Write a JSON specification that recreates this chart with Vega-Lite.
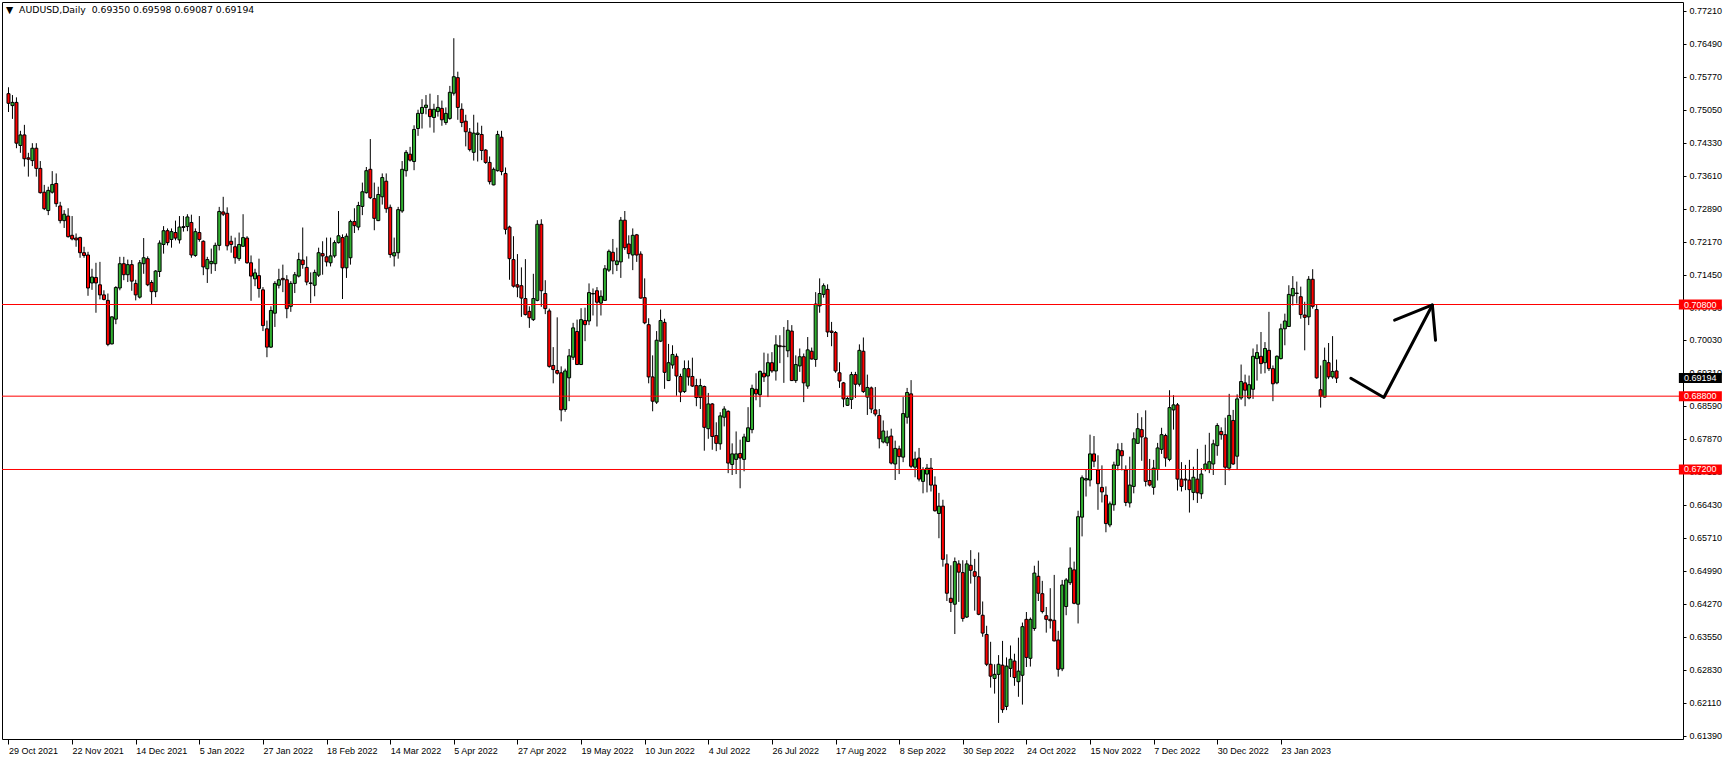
{
"$schema": "https://vega.github.io/schema/vega-lite/v6.json",
"width": 1681, "height": 737,
"autosize": {"type": "none"},
"padding": {"left": 2, "top": 2, "right": 46, "bottom": 21},
"background": "white",
"config": {"view": {"stroke": "#000000", "strokeWidth": 1}, "font": "Liberation Sans",
 "axis": {"labelOverlap": false, "labelBound": false, "labelFlush": false, "labelSeparation": 0, "grid": false, "domain": false, "title": null, "tickColor": "#000000", "labelColor": "#000000", "labelFont": "Liberation Sans", "labelFontSize": 9},
 "axisY": {"labelOverlap": false, "tickSize": 3, "labelPadding": 3},
 "axisX": {"labelOverlap": false, "tickSize": 5, "labelPadding": 2, "labelAlign": "left", "labelBaseline": "top", "labelDx": 1}},
"title": {"text": "▼\u00a0\u00a0AUDUSD,Daily\u00a0\u00a00.69350 0.69598 0.69087 0.69194", "anchor": "start", "frame": "group", "offset": -13, "dx": 4, "fontSize": 9.3, "font": "DejaVu Sans", "fontWeight": "normal", "color": "#000000"},
"datasets": {
"candles": [
{"i":0,"o":0.7540,"h":0.7554,"l":0.7500,"c":0.7519},
{"i":1,"o":0.7514,"h":0.7537,"l":0.7485,"c":0.7521},
{"i":2,"o":0.7521,"h":0.7532,"l":0.7421,"c":0.7432},
{"i":3,"o":0.7427,"h":0.7459,"l":0.7411,"c":0.7450},
{"i":4,"o":0.7450,"h":0.7472,"l":0.7381,"c":0.7398},
{"i":5,"o":0.7400,"h":0.7411,"l":0.7359,"c":0.7397},
{"i":6,"o":0.7394,"h":0.7432,"l":0.7382,"c":0.7421},
{"i":7,"o":0.7421,"h":0.7432,"l":0.7359,"c":0.7377},
{"i":8,"o":0.7377,"h":0.7393,"l":0.7322,"c":0.7324},
{"i":9,"o":0.7325,"h":0.7341,"l":0.7286,"c":0.7289},
{"i":10,"o":0.7285,"h":0.7337,"l":0.7275,"c":0.7329},
{"i":11,"o":0.7325,"h":0.7371,"l":0.7322,"c":0.7342},
{"i":12,"o":0.7344,"h":0.7366,"l":0.7293,"c":0.7300},
{"i":13,"o":0.7295,"h":0.7304,"l":0.7257,"c":0.7263},
{"i":14,"o":0.7263,"h":0.7286,"l":0.7247,"c":0.7277},
{"i":15,"o":0.7273,"h":0.7290,"l":0.7226,"c":0.7228},
{"i":16,"o":0.7231,"h":0.7273,"l":0.7220,"c":0.7223},
{"i":17,"o":0.7225,"h":0.7235,"l":0.7206,"c":0.7221},
{"i":18,"o":0.7226,"h":0.7228,"l":0.7182,"c":0.7193},
{"i":19,"o":0.7193,"h":0.7206,"l":0.7182,"c":0.7187},
{"i":20,"o":0.7188,"h":0.7195,"l":0.7099,"c":0.7116},
{"i":21,"o":0.7127,"h":0.7158,"l":0.7112,"c":0.7140},
{"i":22,"o":0.7139,"h":0.7171,"l":0.7062,"c":0.7127},
{"i":23,"o":0.7123,"h":0.7173,"l":0.7091,"c":0.7101},
{"i":24,"o":0.7101,"h":0.7111,"l":0.7089,"c":0.7091},
{"i":25,"o":0.7089,"h":0.7104,"l":0.6989,"c":0.6993},
{"i":26,"o":0.6994,"h":0.7054,"l":0.6993,"c":0.7053},
{"i":27,"o":0.7048,"h":0.7120,"l":0.7037,"c":0.7117},
{"i":28,"o":0.7116,"h":0.7184,"l":0.7111,"c":0.7169},
{"i":29,"o":0.7169,"h":0.7184,"l":0.7133,"c":0.7145},
{"i":30,"o":0.7145,"h":0.7178,"l":0.7129,"c":0.7167},
{"i":31,"o":0.7167,"h":0.7177,"l":0.7110,"c":0.7131},
{"i":32,"o":0.7126,"h":0.7134,"l":0.7089,"c":0.7101},
{"i":33,"o":0.7096,"h":0.7177,"l":0.7093,"c":0.7171},
{"i":34,"o":0.7169,"h":0.7225,"l":0.7147,"c":0.7182},
{"i":35,"o":0.7180,"h":0.7185,"l":0.7120,"c":0.7123},
{"i":36,"o":0.7128,"h":0.7133,"l":0.7080,"c":0.7108},
{"i":37,"o":0.7108,"h":0.7155,"l":0.7096,"c":0.7153},
{"i":38,"o":0.7152,"h":0.7220,"l":0.7140,"c":0.7214},
{"i":39,"o":0.7211,"h":0.7251,"l":0.7191,"c":0.7241},
{"i":40,"o":0.7241,"h":0.7246,"l":0.7209,"c":0.7215},
{"i":41,"o":0.7222,"h":0.7246,"l":0.7204,"c":0.7239},
{"i":42,"o":0.7237,"h":0.7263,"l":0.7220,"c":0.7225},
{"i":43,"o":0.7221,"h":0.7273,"l":0.7213,"c":0.7249},
{"i":44,"o":0.7248,"h":0.7273,"l":0.7239,"c":0.7250},
{"i":45,"o":0.7250,"h":0.7277,"l":0.7240,"c":0.7271},
{"i":46,"o":0.7259,"h":0.7276,"l":0.7182,"c":0.7188},
{"i":47,"o":0.7187,"h":0.7246,"l":0.7184,"c":0.7239},
{"i":48,"o":0.7237,"h":0.7273,"l":0.7217,"c":0.7222},
{"i":49,"o":0.7218,"h":0.7220,"l":0.7144,"c":0.7162},
{"i":50,"o":0.7158,"h":0.7184,"l":0.7127,"c":0.7178},
{"i":51,"o":0.7169,"h":0.7202,"l":0.7147,"c":0.7174},
{"i":52,"o":0.7169,"h":0.7215,"l":0.7153,"c":0.7209},
{"i":53,"o":0.7209,"h":0.7293,"l":0.7198,"c":0.7283},
{"i":54,"o":0.7282,"h":0.7315,"l":0.7273,"c":0.7277},
{"i":55,"o":0.7279,"h":0.7292,"l":0.7198,"c":0.7208},
{"i":56,"o":0.7218,"h":0.7230,"l":0.7193,"c":0.7211},
{"i":57,"o":0.7206,"h":0.7226,"l":0.7169,"c":0.7182},
{"i":58,"o":0.7180,"h":0.7237,"l":0.7175,"c":0.7211},
{"i":59,"o":0.7207,"h":0.7277,"l":0.7206,"c":0.7226},
{"i":60,"o":0.7225,"h":0.7229,"l":0.7169,"c":0.7171},
{"i":61,"o":0.7171,"h":0.7187,"l":0.7088,"c":0.7142},
{"i":62,"o":0.7136,"h":0.7158,"l":0.7120,"c":0.7149},
{"i":63,"o":0.7143,"h":0.7180,"l":0.7095,"c":0.7115},
{"i":64,"o":0.7112,"h":0.7118,"l":0.7022,"c":0.7034},
{"i":65,"o":0.7027,"h":0.7045,"l":0.6965,"c":0.6987},
{"i":66,"o":0.6987,"h":0.7076,"l":0.6985,"c":0.7067},
{"i":67,"o":0.7061,"h":0.7131,"l":0.7031,"c":0.7126},
{"i":68,"o":0.7122,"h":0.7158,"l":0.7115,"c":0.7134},
{"i":69,"o":0.7137,"h":0.7167,"l":0.7107,"c":0.7134},
{"i":70,"o":0.7134,"h":0.7144,"l":0.7050,"c":0.7071},
{"i":71,"o":0.7076,"h":0.7131,"l":0.7064,"c":0.7126},
{"i":72,"o":0.7126,"h":0.7151,"l":0.7105,"c":0.7145},
{"i":73,"o":0.7142,"h":0.7193,"l":0.7139,"c":0.7178},
{"i":74,"o":0.7177,"h":0.7248,"l":0.7158,"c":0.7167},
{"i":75,"o":0.7161,"h":0.7185,"l":0.7122,"c":0.7129},
{"i":76,"o":0.7127,"h":0.7150,"l":0.7083,"c":0.7126},
{"i":77,"o":0.7122,"h":0.7156,"l":0.7098,"c":0.7150},
{"i":78,"o":0.7144,"h":0.7204,"l":0.7140,"c":0.7193},
{"i":79,"o":0.7191,"h":0.7218,"l":0.7145,"c":0.7186},
{"i":80,"o":0.7184,"h":0.7226,"l":0.7163,"c":0.7173},
{"i":81,"o":0.7171,"h":0.7226,"l":0.7163,"c":0.7186},
{"i":82,"o":0.7186,"h":0.7220,"l":0.7182,"c":0.7215},
{"i":83,"o":0.7215,"h":0.7284,"l":0.7213,"c":0.7230},
{"i":84,"o":0.7226,"h":0.7233,"l":0.7092,"c":0.7160},
{"i":85,"o":0.7160,"h":0.7235,"l":0.7138,"c":0.7229},
{"i":86,"o":0.7182,"h":0.7265,"l":0.7167,"c":0.7261},
{"i":87,"o":0.7261,"h":0.7290,"l":0.7236,"c":0.7252},
{"i":88,"o":0.7249,"h":0.7304,"l":0.7242,"c":0.7296},
{"i":89,"o":0.7294,"h":0.7346,"l":0.7275,"c":0.7326},
{"i":90,"o":0.7324,"h":0.7380,"l":0.7322,"c":0.7372},
{"i":91,"o":0.7375,"h":0.7441,"l":0.7310,"c":0.7313},
{"i":92,"o":0.7311,"h":0.7346,"l":0.7242,"c":0.7268},
{"i":93,"o":0.7263,"h":0.7337,"l":0.7262,"c":0.7320},
{"i":94,"o":0.7315,"h":0.7366,"l":0.7298,"c":0.7357},
{"i":95,"o":0.7349,"h":0.7366,"l":0.7280,"c":0.7289},
{"i":96,"o":0.7292,"h":0.7298,"l":0.7182,"c":0.7189},
{"i":97,"o":0.7186,"h":0.7226,"l":0.7163,"c":0.7193},
{"i":98,"o":0.7193,"h":0.7293,"l":0.7180,"c":0.7287},
{"i":99,"o":0.7284,"h":0.7393,"l":0.7280,"c":0.7375},
{"i":100,"o":0.7372,"h":0.7417,"l":0.7359,"c":0.7412},
{"i":101,"o":0.7408,"h":0.7424,"l":0.7392,"c":0.7395},
{"i":102,"o":0.7392,"h":0.7471,"l":0.7373,"c":0.7462},
{"i":103,"o":0.7464,"h":0.7505,"l":0.7448,"c":0.7497},
{"i":104,"o":0.7497,"h":0.7528,"l":0.7464,"c":0.7510},
{"i":105,"o":0.7510,"h":0.7537,"l":0.7495,"c":0.7515},
{"i":106,"o":0.7506,"h":0.7540,"l":0.7466,"c":0.7490},
{"i":107,"o":0.7488,"h":0.7518,"l":0.7455,"c":0.7506},
{"i":108,"o":0.7501,"h":0.7537,"l":0.7490,"c":0.7510},
{"i":109,"o":0.7508,"h":0.7525,"l":0.7470,"c":0.7483},
{"i":110,"o":0.7477,"h":0.7510,"l":0.7472,"c":0.7497},
{"i":111,"o":0.7486,"h":0.7557,"l":0.7483,"c":0.7543},
{"i":112,"o":0.7541,"h":0.7661,"l":0.7536,"c":0.7577},
{"i":113,"o":0.7575,"h":0.7588,"l":0.7483,"c":0.7510},
{"i":114,"o":0.7506,"h":0.7519,"l":0.7467,"c":0.7477},
{"i":115,"o":0.7480,"h":0.7494,"l":0.7425,"c":0.7457},
{"i":116,"o":0.7456,"h":0.7465,"l":0.7414,"c":0.7418},
{"i":117,"o":0.7412,"h":0.7494,"l":0.7394,"c":0.7454},
{"i":118,"o":0.7451,"h":0.7477,"l":0.7392,"c":0.7454},
{"i":119,"o":0.7451,"h":0.7470,"l":0.7395,"c":0.7416},
{"i":120,"o":0.7417,"h":0.7419,"l":0.7387,"c":0.7390},
{"i":121,"o":0.7390,"h":0.7403,"l":0.7342,"c":0.7348},
{"i":122,"o":0.7341,"h":0.7379,"l":0.7340,"c":0.7375},
{"i":123,"o":0.7372,"h":0.7459,"l":0.7370,"c":0.7451},
{"i":124,"o":0.7445,"h":0.7459,"l":0.7362,"c":0.7370},
{"i":125,"o":0.7366,"h":0.7379,"l":0.7233,"c":0.7244},
{"i":126,"o":0.7249,"h":0.7252,"l":0.7134,"c":0.7180},
{"i":127,"o":0.7178,"h":0.7229,"l":0.7117,"c":0.7120},
{"i":128,"o":0.7123,"h":0.7190,"l":0.7096,"c":0.7118},
{"i":129,"o":0.7121,"h":0.7161,"l":0.7053,"c":0.7094},
{"i":130,"o":0.7093,"h":0.7179,"l":0.7056,"c":0.7058},
{"i":131,"o":0.7065,"h":0.7076,"l":0.7029,"c":0.7051},
{"i":132,"o":0.7047,"h":0.7147,"l":0.7044,"c":0.7093},
{"i":133,"o":0.7089,"h":0.7264,"l":0.7087,"c":0.7255},
{"i":134,"o":0.7255,"h":0.7266,"l":0.7075,"c":0.7110},
{"i":135,"o":0.7104,"h":0.7133,"l":0.7059,"c":0.7071},
{"i":136,"o":0.7066,"h":0.7071,"l":0.6942,"c":0.6945},
{"i":137,"o":0.6947,"h":0.6987,"l":0.6908,"c":0.6938},
{"i":138,"o":0.6936,"h":0.7052,"l":0.6927,"c":0.6930},
{"i":139,"o":0.6931,"h":0.6945,"l":0.6825,"c":0.6850},
{"i":140,"o":0.6851,"h":0.6940,"l":0.6846,"c":0.6935},
{"i":141,"o":0.6920,"h":0.6983,"l":0.6869,"c":0.6968},
{"i":142,"o":0.6965,"h":0.7040,"l":0.6959,"c":0.7029},
{"i":143,"o":0.7021,"h":0.7047,"l":0.6948,"c":0.6949},
{"i":144,"o":0.6949,"h":0.7072,"l":0.6948,"c":0.7047},
{"i":145,"o":0.7045,"h":0.7073,"l":0.7000,"c":0.7036},
{"i":146,"o":0.7044,"h":0.7126,"l":0.7035,"c":0.7106},
{"i":147,"o":0.7103,"h":0.7115,"l":0.7056,"c":0.7104},
{"i":148,"o":0.7110,"h":0.7118,"l":0.7032,"c":0.7085},
{"i":149,"o":0.7083,"h":0.7111,"l":0.7056,"c":0.7098},
{"i":150,"o":0.7089,"h":0.7166,"l":0.7088,"c":0.7158},
{"i":151,"o":0.7155,"h":0.7200,"l":0.7151,"c":0.7196},
{"i":152,"o":0.7194,"h":0.7223,"l":0.7146,"c":0.7175},
{"i":153,"o":0.7167,"h":0.7204,"l":0.7153,"c":0.7175},
{"i":154,"o":0.7173,"h":0.7271,"l":0.7138,"c":0.7264},
{"i":155,"o":0.7264,"h":0.7284,"l":0.7199,"c":0.7204},
{"i":156,"o":0.7212,"h":0.7231,"l":0.7180,"c":0.7191},
{"i":157,"o":0.7188,"h":0.7246,"l":0.7155,"c":0.7231},
{"i":158,"o":0.7232,"h":0.7234,"l":0.7173,"c":0.7188},
{"i":159,"o":0.7190,"h":0.7196,"l":0.7093,"c":0.7094},
{"i":160,"o":0.7095,"h":0.7137,"l":0.7037,"c":0.7040},
{"i":161,"o":0.7036,"h":0.7050,"l":0.6908,"c":0.6922},
{"i":162,"o":0.6922,"h":0.6969,"l":0.6847,"c":0.6869},
{"i":163,"o":0.6867,"h":0.7022,"l":0.6863,"c":0.7002},
{"i":164,"o":0.7000,"h":0.7069,"l":0.6998,"c":0.7045},
{"i":165,"o":0.7041,"h":0.7049,"l":0.6896,"c":0.6932},
{"i":166,"o":0.6914,"h":0.6994,"l":0.6913,"c":0.6953},
{"i":167,"o":0.6948,"h":0.6991,"l":0.6940,"c":0.6971},
{"i":168,"o":0.6967,"h":0.6973,"l":0.6881,"c":0.6924},
{"i":169,"o":0.6923,"h":0.6929,"l":0.6867,"c":0.6889},
{"i":170,"o":0.6890,"h":0.6958,"l":0.6887,"c":0.6940},
{"i":171,"o":0.6940,"h":0.6958,"l":0.6903,"c":0.6922},
{"i":172,"o":0.6923,"h":0.6964,"l":0.6900,"c":0.6902},
{"i":173,"o":0.6903,"h":0.6918,"l":0.6858,"c":0.6877},
{"i":174,"o":0.6877,"h":0.6918,"l":0.6852,"c":0.6903},
{"i":175,"o":0.6901,"h":0.6903,"l":0.6761,"c":0.6812},
{"i":176,"o":0.6809,"h":0.6887,"l":0.6787,"c":0.6863},
{"i":177,"o":0.6863,"h":0.6865,"l":0.6763,"c":0.6792},
{"i":178,"o":0.6794,"h":0.6823,"l":0.6760,"c":0.6777},
{"i":179,"o":0.6776,"h":0.6845,"l":0.6763,"c":0.6837},
{"i":180,"o":0.6834,"h":0.6858,"l":0.6814,"c":0.6852},
{"i":181,"o":0.6847,"h":0.6849,"l":0.6712,"c":0.6734},
{"i":182,"o":0.6731,"h":0.6777,"l":0.6708,"c":0.6754},
{"i":183,"o":0.6742,"h":0.6803,"l":0.6710,"c":0.6754},
{"i":184,"o":0.6755,"h":0.6785,"l":0.6679,"c":0.6745},
{"i":185,"o":0.6742,"h":0.6798,"l":0.6716,"c":0.6791},
{"i":186,"o":0.6781,"h":0.6856,"l":0.6780,"c":0.6811},
{"i":187,"o":0.6807,"h":0.6905,"l":0.6799,"c":0.6897},
{"i":188,"o":0.6895,"h":0.6930,"l":0.6871,"c":0.6885},
{"i":189,"o":0.6883,"h":0.6936,"l":0.6856,"c":0.6934},
{"i":190,"o":0.6930,"h":0.6975,"l":0.6911,"c":0.6922},
{"i":191,"o":0.6924,"h":0.6973,"l":0.6878,"c":0.6953},
{"i":192,"o":0.6953,"h":0.6976,"l":0.6931,"c":0.6935},
{"i":193,"o":0.6935,"h":0.7013,"l":0.6914,"c":0.6992},
{"i":194,"o":0.6990,"h":0.7013,"l":0.6952,"c":0.6988},
{"i":195,"o":0.6988,"h":0.7031,"l":0.6909,"c":0.6989},
{"i":196,"o":0.6979,"h":0.7046,"l":0.6965,"c":0.7024},
{"i":197,"o":0.7022,"h":0.7035,"l":0.6913,"c":0.6914},
{"i":198,"o":0.6914,"h":0.6969,"l":0.6909,"c":0.6949},
{"i":199,"o":0.6946,"h":0.6984,"l":0.6933,"c":0.6966},
{"i":200,"o":0.6966,"h":0.6973,"l":0.6867,"c":0.6909},
{"i":201,"o":0.6902,"h":0.7009,"l":0.6896,"c":0.6981},
{"i":202,"o":0.6978,"h":0.6986,"l":0.6960,"c":0.6961},
{"i":203,"o":0.6960,"h":0.7107,"l":0.6944,"c":0.7081},
{"i":204,"o":0.7077,"h":0.7137,"l":0.7062,"c":0.7104},
{"i":205,"o":0.7102,"h":0.7126,"l":0.7095,"c":0.7121},
{"i":206,"o":0.7113,"h":0.7124,"l":0.7009,"c":0.7020},
{"i":207,"o":0.7022,"h":0.7042,"l":0.6989,"c":0.7019},
{"i":208,"o":0.7019,"h":0.7022,"l":0.6931,"c":0.6935},
{"i":209,"o":0.6931,"h":0.6954,"l":0.6898,"c":0.6913},
{"i":210,"o":0.6909,"h":0.6911,"l":0.6856,"c":0.6874},
{"i":211,"o":0.6860,"h":0.6879,"l":0.6859,"c":0.6875},
{"i":212,"o":0.6873,"h":0.6933,"l":0.6852,"c":0.6927},
{"i":213,"o":0.6927,"h":0.6933,"l":0.6876,"c":0.6906},
{"i":214,"o":0.6906,"h":0.6993,"l":0.6901,"c":0.6980},
{"i":215,"o":0.6978,"h":0.7008,"l":0.6887,"c":0.6890},
{"i":216,"o":0.6878,"h":0.6927,"l":0.6839,"c":0.6899},
{"i":217,"o":0.6898,"h":0.6901,"l":0.6843,"c":0.6852},
{"i":218,"o":0.6850,"h":0.6900,"l":0.6836,"c":0.6841},
{"i":219,"o":0.6838,"h":0.6852,"l":0.6766,"c":0.6787},
{"i":220,"o":0.6780,"h":0.6827,"l":0.6777,"c":0.6804},
{"i":221,"o":0.6778,"h":0.6805,"l":0.6771,"c":0.6791},
{"i":222,"o":0.6793,"h":0.6809,"l":0.6731,"c":0.6734},
{"i":223,"o":0.6732,"h":0.6783,"l":0.6697,"c":0.6766},
{"i":224,"o":0.6765,"h":0.6772,"l":0.6710,"c":0.6748},
{"i":225,"o":0.6747,"h":0.6878,"l":0.6736,"c":0.6842},
{"i":226,"o":0.6834,"h":0.6898,"l":0.6820,"c":0.6888},
{"i":227,"o":0.6885,"h":0.6915,"l":0.6723,"c":0.6727},
{"i":228,"o":0.6725,"h":0.6759,"l":0.6703,"c":0.6743},
{"i":229,"o":0.6745,"h":0.6767,"l":0.6694,"c":0.6699},
{"i":230,"o":0.6694,"h":0.6725,"l":0.6668,"c":0.6720},
{"i":231,"o":0.6710,"h":0.6732,"l":0.6670,"c":0.6723},
{"i":232,"o":0.6723,"h":0.6745,"l":0.6672,"c":0.6686},
{"i":233,"o":0.6686,"h":0.6705,"l":0.6628,"c":0.6630},
{"i":234,"o":0.6624,"h":0.6669,"l":0.6570,"c":0.6640},
{"i":235,"o":0.6640,"h":0.6654,"l":0.6508,"c":0.6524},
{"i":236,"o":0.6514,"h":0.6535,"l":0.6433,"c":0.6450},
{"i":237,"o":0.6439,"h":0.6511,"l":0.6409,"c":0.6430},
{"i":238,"o":0.6426,"h":0.6528,"l":0.6361,"c":0.6519},
{"i":239,"o":0.6514,"h":0.6522,"l":0.6431,"c":0.6496},
{"i":240,"o":0.6495,"h":0.6522,"l":0.6388,"c":0.6395},
{"i":241,"o":0.6398,"h":0.6522,"l":0.6396,"c":0.6514},
{"i":242,"o":0.6511,"h":0.6544,"l":0.6471,"c":0.6500},
{"i":243,"o":0.6497,"h":0.6525,"l":0.6412,"c":0.6487},
{"i":244,"o":0.6486,"h":0.6539,"l":0.6402,"c":0.6404},
{"i":245,"o":0.6402,"h":0.6432,"l":0.6355,"c":0.6363},
{"i":246,"o":0.6360,"h":0.6379,"l":0.6291,"c":0.6295},
{"i":247,"o":0.6295,"h":0.6344,"l":0.6244,"c":0.6269},
{"i":248,"o":0.6264,"h":0.6295,"l":0.6231,"c":0.6273},
{"i":249,"o":0.6273,"h":0.6315,"l":0.6167,"c":0.6295},
{"i":250,"o":0.6293,"h":0.6346,"l":0.6189,"c":0.6196},
{"i":251,"o":0.6203,"h":0.6310,"l":0.6195,"c":0.6291},
{"i":252,"o":0.6286,"h":0.6336,"l":0.6267,"c":0.6306},
{"i":253,"o":0.6302,"h":0.6318,"l":0.6248,"c":0.6266},
{"i":254,"o":0.6257,"h":0.6353,"l":0.6224,"c":0.6280},
{"i":255,"o":0.6271,"h":0.6386,"l":0.6207,"c":0.6377},
{"i":256,"o":0.6393,"h":0.6409,"l":0.6289,"c":0.6310},
{"i":257,"o":0.6308,"h":0.6397,"l":0.6290,"c":0.6393},
{"i":258,"o":0.6373,"h":0.6510,"l":0.6368,"c":0.6494},
{"i":259,"o":0.6487,"h":0.6521,"l":0.6433,"c":0.6450},
{"i":260,"o":0.6449,"h":0.6477,"l":0.6406,"c":0.6410},
{"i":261,"o":0.6401,"h":0.6420,"l":0.6364,"c":0.6393},
{"i":262,"o":0.6393,"h":0.6461,"l":0.6373,"c":0.6390},
{"i":263,"o":0.6391,"h":0.6490,"l":0.6345,"c":0.6346},
{"i":264,"o":0.6348,"h":0.6368,"l":0.6268,"c":0.6284},
{"i":265,"o":0.6285,"h":0.6479,"l":0.6280,"c":0.6468},
{"i":266,"o":0.6421,"h":0.6483,"l":0.6402,"c":0.6479},
{"i":267,"o":0.6473,"h":0.6550,"l":0.6468,"c":0.6505},
{"i":268,"o":0.6501,"h":0.6519,"l":0.6426,"c":0.6428},
{"i":269,"o":0.6426,"h":0.6630,"l":0.6384,"c":0.6617},
{"i":270,"o":0.6616,"h":0.6707,"l":0.6574,"c":0.6702},
{"i":271,"o":0.6697,"h":0.6721,"l":0.6661,"c":0.6700},
{"i":272,"o":0.6697,"h":0.6796,"l":0.6683,"c":0.6754},
{"i":273,"o":0.6754,"h":0.6793,"l":0.6725,"c":0.6738},
{"i":274,"o":0.6719,"h":0.6751,"l":0.6632,"c":0.6689},
{"i":275,"o":0.6681,"h":0.6729,"l":0.6648,"c":0.6671},
{"i":276,"o":0.6664,"h":0.6683,"l":0.6583,"c":0.6602},
{"i":277,"o":0.6599,"h":0.6650,"l":0.6594,"c":0.6645},
{"i":278,"o":0.6643,"h":0.6737,"l":0.6630,"c":0.6730},
{"i":279,"o":0.6729,"h":0.6777,"l":0.6718,"c":0.6763},
{"i":280,"o":0.6761,"h":0.6778,"l":0.6718,"c":0.6750},
{"i":281,"o":0.6719,"h":0.6729,"l":0.6640,"c":0.6648},
{"i":282,"o":0.6647,"h":0.6748,"l":0.6637,"c":0.6686},
{"i":283,"o":0.6683,"h":0.6801,"l":0.6668,"c":0.6787},
{"i":284,"o":0.6777,"h":0.6843,"l":0.6776,"c":0.6809},
{"i":285,"o":0.6807,"h":0.6834,"l":0.6739,"c":0.6791},
{"i":286,"o":0.6789,"h":0.6849,"l":0.6683,"c":0.6694},
{"i":287,"o":0.6696,"h":0.6743,"l":0.6683,"c":0.6686},
{"i":288,"o":0.6681,"h":0.6741,"l":0.6665,"c":0.6723},
{"i":289,"o":0.6720,"h":0.6778,"l":0.6696,"c":0.6767},
{"i":290,"o":0.6764,"h":0.6811,"l":0.6754,"c":0.6796},
{"i":291,"o":0.6794,"h":0.6798,"l":0.6726,"c":0.6745},
{"i":292,"o":0.6742,"h":0.6893,"l":0.6738,"c":0.6855},
{"i":293,"o":0.6850,"h":0.6882,"l":0.6807,"c":0.6861},
{"i":294,"o":0.6861,"h":0.6865,"l":0.6674,"c":0.6699},
{"i":295,"o":0.6699,"h":0.6736,"l":0.6672,"c":0.6683},
{"i":296,"o":0.6699,"h":0.6730,"l":0.6675,"c":0.6697},
{"i":297,"o":0.6697,"h":0.6741,"l":0.6626,"c":0.6676},
{"i":298,"o":0.6670,"h":0.6726,"l":0.6653,"c":0.6703},
{"i":299,"o":0.6699,"h":0.6765,"l":0.6647,"c":0.6669},
{"i":300,"o":0.6667,"h":0.6723,"l":0.6656,"c":0.6710},
{"i":301,"o":0.6720,"h":0.6774,"l":0.6716,"c":0.6732},
{"i":302,"o":0.6720,"h":0.6800,"l":0.6712,"c":0.6737},
{"i":303,"o":0.6732,"h":0.6785,"l":0.6708,"c":0.6776},
{"i":304,"o":0.6772,"h":0.6821,"l":0.6750,"c":0.6816},
{"i":305,"o":0.6803,"h":0.6812,"l":0.6785,"c":0.6796},
{"i":306,"o":0.6796,"h":0.6833,"l":0.6686,"c":0.6725},
{"i":307,"o":0.6723,"h":0.6885,"l":0.6718,"c":0.6838},
{"i":308,"o":0.6827,"h":0.6850,"l":0.6730,"c":0.6732},
{"i":309,"o":0.6749,"h":0.6884,"l":0.6719,"c":0.6874},
{"i":310,"o":0.6876,"h":0.6949,"l":0.6872,"c":0.6912},
{"i":311,"o":0.6909,"h":0.6927,"l":0.6858,"c":0.6893},
{"i":312,"o":0.6876,"h":0.6925,"l":0.6873,"c":0.6905},
{"i":313,"o":0.6895,"h":0.6984,"l":0.6874,"c":0.6967},
{"i":314,"o":0.6962,"h":0.6993,"l":0.6914,"c":0.6975},
{"i":315,"o":0.6967,"h":0.7020,"l":0.6929,"c":0.6951},
{"i":316,"o":0.6953,"h":0.6998,"l":0.6930,"c":0.6984},
{"i":317,"o":0.6980,"h":0.7064,"l":0.6935,"c":0.6940},
{"i":318,"o":0.6940,"h":0.6947,"l":0.6869,"c":0.6907},
{"i":319,"o":0.6909,"h":0.6969,"l":0.6906,"c":0.6967},
{"i":320,"o":0.6962,"h":0.7038,"l":0.6960,"c":0.7027},
{"i":321,"o":0.7027,"h":0.7060,"l":0.6991,"c":0.7044},
{"i":322,"o":0.7032,"h":0.7122,"l":0.7031,"c":0.7102},
{"i":323,"o":0.7099,"h":0.7142,"l":0.7078,"c":0.7115},
{"i":324,"o":0.7105,"h":0.7130,"l":0.7082,"c":0.7104},
{"i":325,"o":0.7097,"h":0.7119,"l":0.7049,"c":0.7058},
{"i":326,"o":0.7057,"h":0.7086,"l":0.6980,"c":0.7052},
{"i":327,"o":0.7053,"h":0.7142,"l":0.7035,"c":0.7135},
{"i":328,"o":0.7135,"h":0.7157,"l":0.7071,"c":0.7076},
{"i":329,"o":0.7069,"h":0.7080,"l":0.6918,"c":0.6920},
{"i":330,"o":0.6894,"h":0.6947,"l":0.6855,"c":0.6880},
{"i":331,"o":0.6878,"h":0.6986,"l":0.6877,"c":0.6958},
{"i":332,"o":0.6953,"h":0.6996,"l":0.6917,"c":0.6922},
{"i":333,"o":0.6922,"h":0.7011,"l":0.6918,"c":0.6934},
{"i":334,"o":0.69350,"h":0.69598,"l":0.69087,"c":0.69194}
],
"levels": [{"p": 0.708}, {"p": 0.688}, {"p": 0.672}],
"arrow": [
{"seg":"zigzag","ord":0,"x":337.6,"y":0.6919},
{"seg":"zigzag","ord":1,"x":345.9,"y":0.6877},
{"seg":"zigzag","ord":2,"x":358.1,"y":0.7079},
{"seg":"head","ord":0,"x":348.6,"y":0.7046},
{"seg":"head","ord":1,"x":358.1,"y":0.7079},
{"seg":"head","ord":2,"x":358.9,"y":0.7002}
],
"tags": [
{"p":0.708,"t":"0.70800","kind":"level"},
{"p":0.69194,"t":"0.69194","kind":"bid"},
{"p":0.688,"t":"0.68800","kind":"level"},
{"p":0.672,"t":"0.67200","kind":"level"}
]
},
"layer": [
{
"data": {"name": "candles"},
"mark": {"type": "rule", "color": "#000000", "strokeWidth": 1},
"encoding": {
"x": {"field": "i", "type": "quantitative", "scale": {"domain": [-0.375, 419.875], "nice": false, "zero": false},
 "axis": {"values": [0,16,32,48,64,80,96,112,128,144,160,176,192,208,224,240,256,272,288,304,320], "labelOverlap": false,
  "labelExpr": "['29 Oct 2021','22 Nov 2021','14 Dec 2021','5 Jan 2022','27 Jan 2022','18 Feb 2022','14 Mar 2022','5 Apr 2022','27 Apr 2022','19 May 2022','10 Jun 2022','4 Jul 2022','26 Jul 2022','17 Aug 2022','8 Sep 2022','30 Sep 2022','24 Oct 2022','15 Nov 2022','7 Dec 2022','30 Dec 2022','23 Jan 2023'][round(datum.value/16)]"}},
"y": {"field": "l", "type": "quantitative", "scale": {"domain": [0.613193, 0.774005], "nice": false, "zero": false},
 "axis": {"orient": "right", "format": ".5f", "labelOverlap": false, "values": [0.6139,0.6211,0.6283,0.6355,0.6427,0.6499,0.6571,0.6643,0.6715,0.6787,0.6859,0.6931,0.7003,0.7073,0.7145,0.7217,0.7289,0.7361,0.7433,0.7505,0.7577,0.7649,0.7721]}},
"y2": {"field": "h"}
}
},
{
"data": {"name": "candles"},
"mark": {"type": "bar", "size": 3, "stroke": "#000000", "strokeWidth": 1},
"encoding": {
"x": {"field": "i", "type": "quantitative",
 "axis": {"values": [0,16,32,48,64,80,96,112,128,144,160,176,192,208,224,240,256,272,288,304,320], "labelOverlap": false,
  "labelExpr": "['29 Oct 2021','22 Nov 2021','14 Dec 2021','5 Jan 2022','27 Jan 2022','18 Feb 2022','14 Mar 2022','5 Apr 2022','27 Apr 2022','19 May 2022','10 Jun 2022','4 Jul 2022','26 Jul 2022','17 Aug 2022','8 Sep 2022','30 Sep 2022','24 Oct 2022','15 Nov 2022','7 Dec 2022','30 Dec 2022','23 Jan 2023'][round(datum.value/16)]"}},
"y": {"field": "o", "type": "quantitative",
 "axis": {"orient": "right", "format": ".5f", "labelOverlap": false, "values": [0.6139,0.6211,0.6283,0.6355,0.6427,0.6499,0.6571,0.6643,0.6715,0.6787,0.6859,0.6931,0.7003,0.7073,0.7145,0.7217,0.7289,0.7361,0.7433,0.7505,0.7577,0.7649,0.7721]}},
"y2": {"field": "c"},
"fill": {"condition": {"test": "datum.c >= datum.o", "value": "#30b030"}, "value": "#ff0000"}
}
},
{
"data": {"name": "levels"},
"mark": {"type": "rule", "color": "#ff0000", "strokeWidth": 1},
"encoding": {"y": {"field": "p", "type": "quantitative",
 "axis": {"orient": "right", "format": ".5f", "labelOverlap": false, "values": [0.6139,0.6211,0.6283,0.6355,0.6427,0.6499,0.6571,0.6643,0.6715,0.6787,0.6859,0.6931,0.7003,0.7073,0.7145,0.7217,0.7289,0.7361,0.7433,0.7505,0.7577,0.7649,0.7721]}}}
},
{
"data": {"name": "arrow"},
"mark": {"type": "line", "color": "#000000", "strokeWidth": 3, "strokeCap": "round", "strokeJoin": "round"},
"encoding": {
"x": {"field": "x", "type": "quantitative",
 "axis": {"values": [0,16,32,48,64,80,96,112,128,144,160,176,192,208,224,240,256,272,288,304,320], "labelOverlap": false,
  "labelExpr": "['29 Oct 2021','22 Nov 2021','14 Dec 2021','5 Jan 2022','27 Jan 2022','18 Feb 2022','14 Mar 2022','5 Apr 2022','27 Apr 2022','19 May 2022','10 Jun 2022','4 Jul 2022','26 Jul 2022','17 Aug 2022','8 Sep 2022','30 Sep 2022','24 Oct 2022','15 Nov 2022','7 Dec 2022','30 Dec 2022','23 Jan 2023'][round(datum.value/16)]"}},
"y": {"field": "y", "type": "quantitative",
 "axis": {"orient": "right", "format": ".5f", "labelOverlap": false, "values": [0.6139,0.6211,0.6283,0.6355,0.6427,0.6499,0.6571,0.6643,0.6715,0.6787,0.6859,0.6931,0.7003,0.7073,0.7145,0.7217,0.7289,0.7361,0.7433,0.7505,0.7577,0.7649,0.7721]}},
"detail": {"field": "seg", "type": "nominal"},
"order": {"field": "ord", "type": "quantitative"}
}
},
{
"data": {"name": "tags"},
"mark": {"type": "tick", "orient": "horizontal", "size": 43, "thickness": 10, "opacity": 1},
"encoding": {
"x": {"datum": 425.5, "type": "quantitative",
 "axis": {"values": [0,16,32,48,64,80,96,112,128,144,160,176,192,208,224,240,256,272,288,304,320], "labelOverlap": false,
  "labelExpr": "['29 Oct 2021','22 Nov 2021','14 Dec 2021','5 Jan 2022','27 Jan 2022','18 Feb 2022','14 Mar 2022','5 Apr 2022','27 Apr 2022','19 May 2022','10 Jun 2022','4 Jul 2022','26 Jul 2022','17 Aug 2022','8 Sep 2022','30 Sep 2022','24 Oct 2022','15 Nov 2022','7 Dec 2022','30 Dec 2022','23 Jan 2023'][round(datum.value/16)]"}},
"y": {"field": "p", "type": "quantitative",
 "axis": {"orient": "right", "format": ".5f", "labelOverlap": false, "values": [0.6139,0.6211,0.6283,0.6355,0.6427,0.6499,0.6571,0.6643,0.6715,0.6787,0.6859,0.6931,0.7003,0.7073,0.7145,0.7217,0.7289,0.7361,0.7433,0.7505,0.7577,0.7649,0.7721]}},
"color": {"field": "kind", "type": "nominal", "scale": {"domain": ["level", "bid"], "range": ["#ff0000", "#000000"]}, "legend": null}
}
},
{
"data": {"name": "tags"},
"mark": {"type": "text", "align": "left", "baseline": "middle", "font": "Liberation Sans", "fontSize": 9, "color": "#ffffff"},
"encoding": {
"x": {"datum": 421.375, "type": "quantitative",
 "axis": {"values": [0,16,32,48,64,80,96,112,128,144,160,176,192,208,224,240,256,272,288,304,320], "labelOverlap": false,
  "labelExpr": "['29 Oct 2021','22 Nov 2021','14 Dec 2021','5 Jan 2022','27 Jan 2022','18 Feb 2022','14 Mar 2022','5 Apr 2022','27 Apr 2022','19 May 2022','10 Jun 2022','4 Jul 2022','26 Jul 2022','17 Aug 2022','8 Sep 2022','30 Sep 2022','24 Oct 2022','15 Nov 2022','7 Dec 2022','30 Dec 2022','23 Jan 2023'][round(datum.value/16)]"}},
"y": {"field": "p", "type": "quantitative",
 "axis": {"orient": "right", "format": ".5f", "labelOverlap": false, "values": [0.6139,0.6211,0.6283,0.6355,0.6427,0.6499,0.6571,0.6643,0.6715,0.6787,0.6859,0.6931,0.7003,0.7073,0.7145,0.7217,0.7289,0.7361,0.7433,0.7505,0.7577,0.7649,0.7721]}},
"text": {"field": "t", "type": "nominal"}
}
}
]
}
